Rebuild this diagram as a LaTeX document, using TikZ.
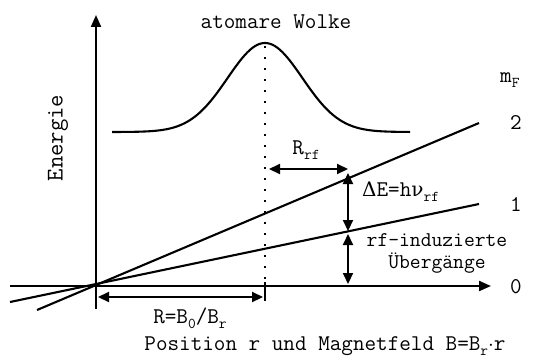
\documentclass[tikz,border=0pt]{standalone}
\usepackage{fontspec}
\newfontfamily\grk{DejaVu Serif}
\usetikzlibrary{arrows.meta}
\newcommand\mysub[1]{\raisebox{-0.55ex}{\fontsize{15}{15}\selectfont #1}}
\tikzset{
  thick line/.style={line width=2.1pt},
  tip/.style={-{Triangle[length=12pt,width=10pt]}},
  dtip/.style={{Triangle[length=11pt,width=10pt]}-{Triangle[length=11pt,width=10pt]}},
  lbl/.style={inner sep=0pt, font=\ttfamily\fontsize{22.5}{24}\selectfont},
  slbl/.style={inner sep=0pt, font=\ttfamily\fontsize{21}{23}\selectfont},
}
\begin{document}
\begin{tikzpicture}[x=1pt,y=-1pt]
\useasboundingbox (0,0) rectangle (534,361);
% axes
\coordinate (O) at (96,286);
\coordinate (ytop) at (96,15);
\coordinate (ybot) at (96,309);
\coordinate (xleft) at (10,286);
\coordinate (xright) at (491,286);
\draw[thick line, tip] (ybot) -- (ytop);
\draw[thick line, tip] (xleft) -- (xright);
% energy lines
\coordinate (l2a) at (37,310);
\coordinate (l2b) at (479,123);
\coordinate (l1a) at (10,302);
\coordinate (l1b) at (479,204);
\draw[thick line] (l2a) -- (l2b);
\draw[thick line] (l1a) -- (l1b);
% gaussian cloud
\draw[thick line, samples=120, domain=112:410] plot (\x, {132-89*exp(-0.5*((\x-265)/37.4)^2)});
% dotted line and tick
\coordinate (dtop) at (265,46);
\coordinate (dbot) at (265,282);
\draw[line width=2.4pt, dash pattern=on 2.4pt off 8.6pt] (dtop) -- (dbot);
\coordinate (tka) at (265,282);
\coordinate (tkb) at (265,301);
\draw[thick line] (tka) -- (tkb);
% arrows
\coordinate (ra) at (98,297);
\coordinate (rb) at (263,297);
\draw[thick line, dtip] (ra) -- (rb);
\coordinate (rfa) at (269,169);
\coordinate (rfb) at (348,169);
\draw[thick line, dtip] (rfa) -- (rfb);
\coordinate (ea) at (348,173);
\coordinate (eb) at (348,231);
\draw[thick line, dtip] (ea) -- (eb);
\coordinate (fa) at (348,234);
\coordinate (fb) at (348,284);
\draw[thick line, dtip] (fa) -- (fb);
% labels
\node[lbl] (wolke) at (276,22) {atomare Wolke};
\node[lbl, rotate=90, font=\ttfamily\fontsize{24}{26}\selectfont] (energie) at (58,138) {Energie};
\node[lbl] (rrf) at (306,150) {R\mysub{rf}};
\node[lbl, anchor=west] (de) at (362,192) {{\grk\fontsize{20}{22}\selectfont Δ}E=h{\grk\fontsize{20}{22}\selectfont ν}\mysub{rf}};
\node[slbl] (rfind) at (437,240) {rf-induzierte};
\node[slbl] (ueb) at (437,263) {Übergänge};
\node[lbl, anchor=west] (mf) at (500,80) {m\mysub{F}};
\node[lbl] (m2) at (516,122) {2};
\node[lbl] (m1) at (516,204) {1};
\node[lbl] (m0) at (516,287) {0};
\node[lbl] (rlab) at (190,318) {R=B\mysub{0}/B\mysub{r}};
\node[lbl] (pos) at (325,346) {Position r und Magnetfeld B=B\mysub{r}$\cdot$r};
\end{tikzpicture}
\end{document}
